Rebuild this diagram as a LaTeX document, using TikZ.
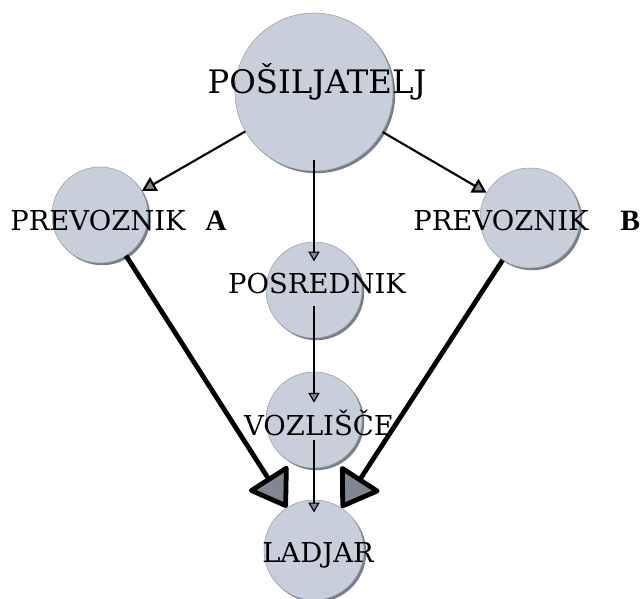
\documentclass[tikz,border=0pt]{standalone}
\usepackage{fontspec}
\setmainfont{DejaVu Serif}
\newfontfamily\tagfont{Liberation Serif}
\usetikzlibrary{arrows.meta,shadows,positioning}
\definecolor{PartyFill}{RGB}{200,207,218}
\definecolor{PartyEdge}{RGB}{150,158,170}
\definecolor{PartyShadow}{RGB}{118,126,138}
\definecolor{TipGray}{RGB}{128,134,146}
\tikzset{
  party/.style={circle, fill=PartyFill, draw=PartyEdge, line width=0.4pt, inner sep=0pt,
    drop shadow={fill=PartyShadow, opacity=1, shadow xshift=1.6pt, shadow yshift=-1.6pt}},
  partyname/.style={font=\fontsize{19.5}{23}\selectfont, inner sep=0pt, anchor=base},
  sidetag/.style={font=\tagfont\bfseries\fontsize{21}{24}\selectfont, inner sep=0pt, anchor=base west},
  thinarrow/.style={-{Triangle[length=10pt, width=11pt, fill=TipGray]}, line width=1.5pt},
  hairarrow/.style={-{Triangle[length=7pt, width=8pt, fill=TipGray]}, line width=0.8pt},
  heavyarrow/.style={-{Triangle[round, length=27pt, width=35pt, fill=TipGray]}, line width=3.4pt}
}

\begin{document}
\begin{tikzpicture}[x=0.025cm, y=-0.025cm]
  \useasboundingbox (0,0) rectangle (640,599);
  % circles
  \node[party, minimum size=158*0.025cm] (sender) at (314,92) {};
  \node[party, minimum size=96*0.025cm] (carrierA) at (100,215) {};
  \node[party, minimum size=100*0.025cm] (carrierB) at (530,218) {};
  \node[party, minimum size=96*0.025cm] (broker) at (314,290) {};
  \node[party, minimum size=96*0.025cm] (hub) at (314,420) {};
  \node[party, minimum size=100*0.025cm] (shipowner) at (314,550) {};
  % names
  \node[partyname, font=\fontsize{23}{27}\selectfont] (sender-txt) at (317,93) {POŠILJATELJ};
  \node[partyname] (carrierA-txt) at (98,230) {PREVOZNIK};
  \node[sidetag] (tagA) at (205,230) {A};
  \node[partyname] (carrierB-txt) at (501,230) {PREVOZNIK};
  \node[sidetag] (tagB) at (620,230) {B};
  \node[partyname] (broker-txt) at (317,293) {POSREDNIK};
  \node[partyname] (hub-txt) at (319,435) {VOZLIŠČE};
  \node[partyname] (shipowner-txt) at (318,562) {LADJAR};
  % connectors
  \draw[thinarrow] (sender) -- (carrierA);
  \draw[thinarrow] (sender) -- (carrierB);
  \draw[hairarrow, shorten <=-8pt, shorten >=-14pt] (sender) -- (broker);
  \draw[hairarrow, shorten <=-23pt, shorten >=-22pt] (broker) -- (hub);
  \draw[hairarrow, shorten <=-20pt, shorten >=-9pt] (hub) -- (shipowner);
  \draw[heavyarrow] (carrierA) -- (shipowner);
  \draw[heavyarrow] (carrierB) -- (shipowner);
\end{tikzpicture}
\end{document}
